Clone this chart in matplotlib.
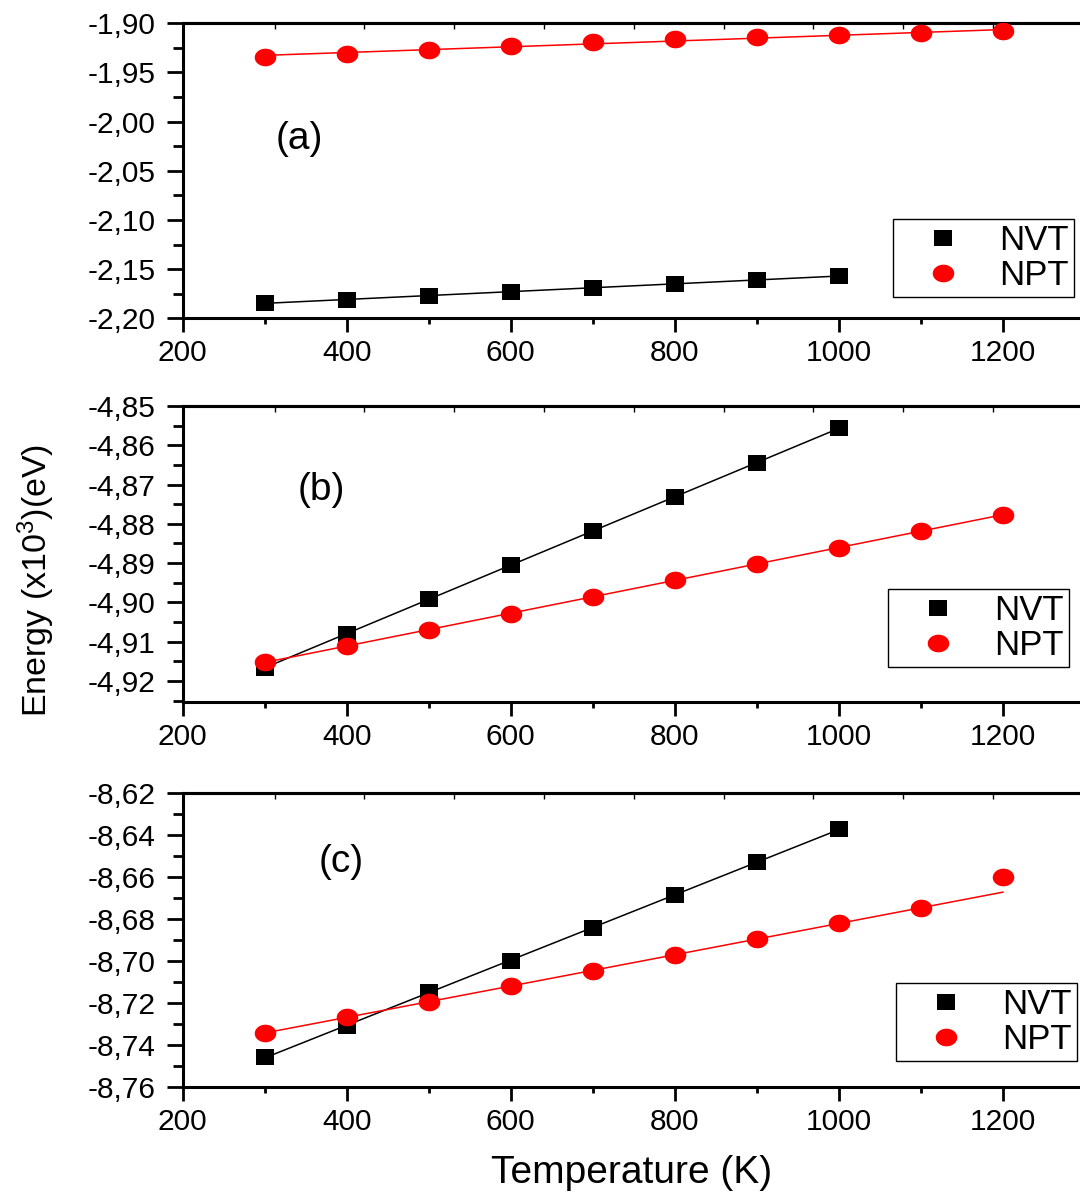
import numpy as np
import matplotlib
matplotlib.use("Agg")
import matplotlib.pyplot as plt
from matplotlib.ticker import MultipleLocator, FuncFormatter

plt.rcParams['font.family'] = ['Liberation Sans', 'DejaVu Sans']
plt.rcParams['mathtext.fontset'] = 'custom'
plt.rcParams['mathtext.rm'] = 'Liberation Sans'
plt.rcParams['mathtext.it'] = 'Liberation Sans:italic'
plt.rcParams['mathtext.bf'] = 'Liberation Sans:bold'

# data (energies in units of 10^3 eV)
TEMP_NVT = [300, 400, 500, 600, 700, 800, 900, 1000]
TEMP_NPT = [300, 400, 500, 600, 700, 800, 900, 1000, 1100, 1200]

A_NVT = [-2.1847, -2.1810, -2.1769, -2.1728, -2.1688, -2.1651, -2.1610, -2.1570]
A_NPT = [-1.9343, -1.9308, -1.9267, -1.9227, -1.9193, -1.9163, -1.9142, -1.9122, -1.9102, -1.9081]

B_NVT = [-4.9167, -4.9080, -4.8991, -4.8905, -4.8818, -4.8732, -4.8645, -4.8556]
B_NPT = [-4.9152, -4.9111, -4.9070, -4.9029, -4.8986, -4.8943, -4.8902, -4.8861, -4.8818, -4.8777]

C_NVT = [-8.7458, -8.7310, -8.7151, -8.7001, -8.6844, -8.6687, -8.6530, -8.6373]
C_NPT = [-8.7344, -8.7268, -8.7196, -8.7120, -8.7049, -8.6973, -8.6896, -8.6820, -8.6749, -8.6601]

SERIES = ["NVT", "NPT"]
PANELS = ["(a)", "(b)", "(c)"]
X_LABEL = "Temperature (K)"
Y_LABEL = "Energy (x10$^{3}$)(eV)"

W, H = 1080, 1194
fig = plt.figure(figsize=(W / 100, H / 100), dpi=100)

# ellipse / flat square markers (the original picture is stretched sideways)
t = np.linspace(0, 2 * np.pi, 60)
CIRCLE = list(zip(np.cos(t), 0.82 * np.sin(t)))
SQUARE = [(-1, -0.88), (1, -0.88), (1, 0.88), (-1, 0.88), (-1, -0.88)]

def px_rect(top, bottom, left=182.7, right=W):
    return [left / W, 1 - bottom / H, (right - left) / W, (bottom - top) / H]

# rect, ylim, major, minor, label pos, legend (left, top) px, nvt, npt, points used for npt fit
panels = [
    (px_rect(23.3, 318.3), (-2.20, -1.90), 0.05, 0.025, (0.130, 0.607), (893, 219), A_NVT, A_NPT, None),
    (px_rect(406.0, 701.7), (-4.9253, -4.85), 0.01, 0.005, (0.155, 0.715), (888, 589), B_NVT, B_NPT, None),
    (px_rect(792.7, 1086.7), (-8.76, -8.62), 0.02, 0.01, (0.177, 0.765), (896, 983), C_NVT, C_NPT, 9),
]

comma = FuncFormatter(lambda v, p: f"{v:.2f}".replace(".", ","))

for i, (rect, ylim, major, minor, lpos, leg, nvt, npt, nfit) in enumerate(panels):
    ax = fig.add_axes(rect)
    ax.set_xlim(200, 1294)
    ax.set_ylim(*ylim)

    for x, y, col, mk, ms, lab, n in [(TEMP_NVT, nvt, 'black', SQUARE, 13, SERIES[0], None),
                                      (TEMP_NPT, npt, 'red', CIRCLE, 15.5, SERIES[1], nfit)]:
        x = np.array(x, float)
        y = np.array(y, float)
        n = n or len(x)
        k, b = np.polyfit(x[:n], y[:n], 1)
        xs = np.array([x.min(), x.max()])
        ax.plot(xs, k * xs + b, color=col, lw=1.1, zorder=2)
        ax.plot(x, y, ls='none', marker=mk, ms=ms, mfc=col, mec=col, mew=0,
                label=lab, zorder=3)

    ax.xaxis.set_major_locator(MultipleLocator(200))
    ax.xaxis.set_minor_locator(MultipleLocator(100))
    ax.yaxis.set_major_locator(MultipleLocator(major))
    ax.yaxis.set_minor_locator(MultipleLocator(minor))
    ax.yaxis.set_major_formatter(comma)
    ax.xaxis.set_major_formatter(FuncFormatter(lambda v, p: f"{v:.0f}"))

    ax.spines['right'].set_visible(False)
    for s in ['left', 'bottom', 'top']:
        ax.spines[s].set_linewidth(2.2)
    ax.tick_params(axis='y', which='major', direction='out', length=11.5, width=2,
                   labelsize=21.5, pad=8)
    ax.tick_params(axis='y', which='minor', direction='out', length=7, width=2)
    ax.tick_params(axis='x', which='major', direction='out', length=10, width=2,
                   labelsize=21.5, pad=5)
    ax.tick_params(axis='x', which='minor', direction='out', length=4, width=2)

    top = ax.secondary_xaxis('top')
    top.set_xticks(np.arange(312, 1290, 109.5))
    top.set_xticklabels([])
    top.tick_params(direction='in', length=4, width=1)
    top.spines['top'].set_linewidth(2.2)

    ax.text(lpos[0], lpos[1], PANELS[i], transform=ax.transAxes, fontsize=28,
            ha='center', va='center')

    ax.legend(loc='upper left', bbox_to_anchor=(leg[0] / W, 1 - leg[1] / H),
              bbox_transform=fig.transFigure, borderaxespad=0, fontsize=25,
              frameon=True, fancybox=False, edgecolor='black', framealpha=1,
              handlelength=2.6, handletextpad=0.3, borderpad=0.15,
              labelspacing=0.05, markerscale=1.0).get_frame().set_linewidth(1.0)

fig.text(36 / W, 1 - 580 / H, Y_LABEL, rotation=90, ha='center', va='center', fontsize=24.5)
fig.text(632 / W, 1 - 1173 / H, X_LABEL, ha='center', va='center', fontsize=28)

fig.savefig("out.png", dpi=100)
